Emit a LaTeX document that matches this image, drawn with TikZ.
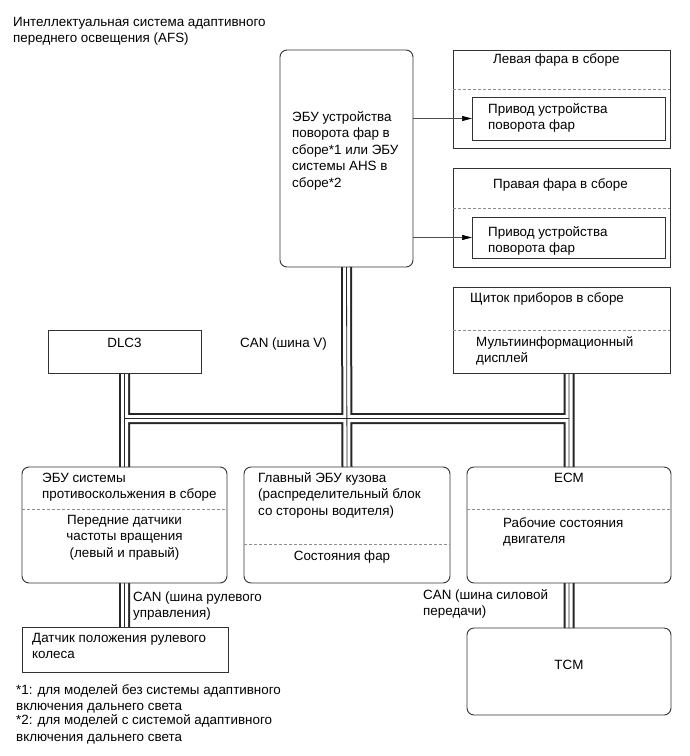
\documentclass[tikz,border=0pt]{standalone}
\usepackage{fontspec}
\setmainfont{Liberation Sans}
\usetikzlibrary{arrows.meta,positioning,backgrounds}

\tikzset{
  lbl/.style={font=\fontsize{13.4}{16.5}\selectfont, inner sep=0pt, align=left, anchor=base west},
  clbl/.style={font=\fontsize{13.4}{16.5}\selectfont, inner sep=0pt, align=center, anchor=base},
  sqbox/.style={draw=black!80, line width=0.9pt, inner sep=0pt, outer sep=0pt},
  rbox/.style={sqbox, rounded corners=7pt},
  divider/.style={draw=black!45, line width=0.7pt, dash pattern=on 3pt off 2pt},
  sig/.style={draw=black!70, line width=0.7pt, -{Triangle[length=10pt,width=5pt,color=black]}},
}

\begin{document}
\begin{tikzpicture}[x=1pt,y=-1pt]
\useasboundingbox (0,0) rectangle (690,756);

% title (text nodes sit on the baseline of their last line)
\node[lbl] (title) at (13,42.5) {Интеллектуальная система адаптивного\\переднего освещения (AFS)};

% swivel / AHS ECU and headlamps
\node[rbox, minimum width=133, minimum height=217] (ecu) at (346.5,158.5) {};
\node[lbl] (ecutxt) at (292,187) {ЭБУ устройства\\поворота фар в\\сборе*1 или ЭБУ\\системы AHS в\\сборе*2};

\node[sqbox, minimum width=217, minimum height=98] (lhead) at (561.5,99) {};
\node[lbl] (lheadtxt) at (493,63) {Левая фара в сборе};
\draw[divider] (lhead.west |- 0,89) -- (lhead.east |- 0,89);
\node[sqbox, minimum width=193, minimum height=43] (lact) at (568.5,118.5) {};
\node[lbl] (lacttxt) at (488,129.5) {Привод устройства\\поворота фар};

\node[sqbox, minimum width=217, minimum height=99] (rhead) at (561.5,217.5) {};
\node[lbl] (rheadtxt) at (493,188) {Правая фара в сборе};
\draw[divider] (rhead.west |- 0,208) -- (rhead.east |- 0,208);
\node[sqbox, minimum width=193, minimum height=41] (ract) at (568.5,237.5) {};
\node[lbl] (racttxt) at (488,252.5) {Привод устройства\\поворота фар};

\draw[sig] (ecu.east |- lact.west) -- (lact.west);
\draw[sig] (ecu.east |- ract.west) -- (ract.west);

% combination meter and DLC3
\node[sqbox, minimum width=217, minimum height=86] (meter) at (561.5,330) {};
\node[lbl] (metertxt) at (470,302) {Щиток приборов в сборе};
\draw[divider] (meter.west |- 0,330) -- (meter.east |- 0,330);
\node[lbl] (mid) at (476,362.5) {Мультиинформационный\\дисплей};

\node[sqbox, minimum width=153, minimum height=43] (dlc) at (124.5,351.5) {};
\node[clbl] (dlctxt) at (124.5,347) {DLC3};
\node[lbl] (canv) at (240,347) {CAN (шина V)};

% lower row
\node[rbox, minimum width=205, minimum height=116] (abs) at (124.5,525) {};
\node[lbl] (abstxt) at (42,498.5) {ЭБУ системы\\противоскольжения в сборе};
\draw[divider] (abs.west |- 0,509) -- (abs.east |- 0,509);
\node[clbl] (speed) at (124.5,557) {Передние датчики\\частоты вращения\\(левый и правый)};

\node[rbox, minimum width=206, minimum height=116] (body) at (347,525) {};
\node[lbl] (bodytxt) at (258,515) {Главный ЭБУ кузова\\(распределительный блок\\со стороны водителя)};
\draw[divider] (body.west |- 0,544) -- (body.east |- 0,544);
\node[clbl] (lamps) at (342,560) {Состояния фар};

\node[rbox, minimum width=204, minimum height=116] (ecm) at (569,525) {};
\node[clbl] (ecmtxt) at (569,482) {ECM};
\draw[divider] (ecm.west |- 0,509) -- (ecm.east |- 0,509);
\node[lbl] (engine) at (503,543.5) {Рабочие состояния\\двигателя};

\node[rbox, minimum width=204, minimum height=87] (tcm) at (569,671.5) {};
\node[clbl] (tcmtxt) at (569,669.5) {TCM};
\node[lbl] (canpt) at (423,615.5) {CAN (шина силовой\\передачи)};

\node[sqbox, minimum width=206, minimum height=45] (steer) at (125,649.5) {};
\node[lbl] (steertxt) at (32,658.5) {Датчик положения рулевого\\колеса};
\node[lbl] (cansteer) at (133,617.5) {CAN (шина рулевого\\управления)};

% notes
\node[lbl] (note1) at (16,710.5) {*1: для моделей без системы адаптивного\\включения дальнего света};
\node[lbl] (note2) at (16,741) {*2: для моделей с системой адаптивного\\включения дальнего света};

% CAN lines
\coordinate (busL) at (124.5,418.5);
\coordinate (busR) at (569,418.5);
\begin{scope}[on background layer]
\foreach \w/\col in {11/black!85,7/white,0.8/black!85}
  \draw[line width=\w pt, draw=\col]
    (ecu.south) -- (body.north)
    (dlc.south) -- (abs.north)
    (meter.south -| ecm.north) -- (ecm.north)
    (busL) -- (busR)
    (abs.south) -- (abs.south |- steer.north)
    (ecm.south) -- (tcm.north);
\end{scope}
\end{tikzpicture}
\end{document}
